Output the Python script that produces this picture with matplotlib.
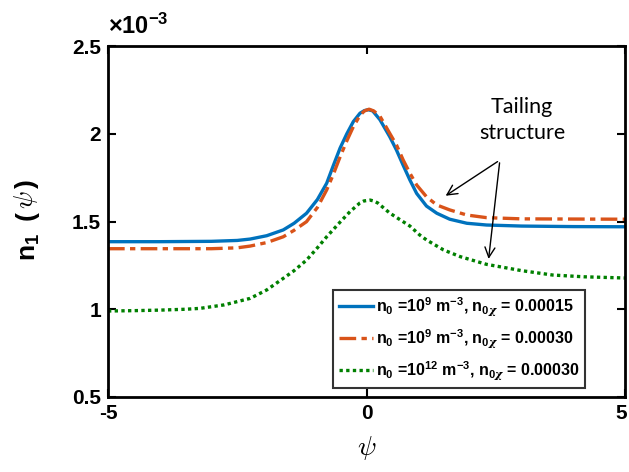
import matplotlib
matplotlib.use("Agg")
import matplotlib.pyplot as plt
import matplotlib.transforms as mtransforms

plt.rcParams['font.family'] = ['Liberation Sans', 'DejaVu Sans']
plt.rcParams['font.weight'] = 'bold'
plt.rcParams['mathtext.fontset'] = 'custom'
plt.rcParams['mathtext.rm'] = 'Liberation Sans:bold'
plt.rcParams['mathtext.bf'] = 'Liberation Sans:bold'
plt.rcParams['mathtext.it'] = 'DejaVu Serif:italic'
plt.rcParams['mathtext.default'] = 'rm'

# values of n1 in units of 1e-3
psi_blue = [-5, -4, -3, -2.5, -2.25, -1.93, -1.61, -1.4, -1.16, -0.95, -0.77, -0.64, -0.51, -0.38,
            -0.255, -0.126, -0.04, 0.035, 0.12, 0.26, 0.45, 0.58, 0.71, 0.84, 0.97, 1.16, 1.36,
            1.61, 1.94, 2.32, 3, 4, 5]
n1_blue = [1.385, 1.385, 1.387, 1.392, 1.40, 1.419, 1.452, 1.49, 1.547, 1.625, 1.718, 1.82, 1.919, 2.0,
           2.069, 2.117, 2.132, 2.137, 2.13, 2.08, 1.983, 1.907, 1.82, 1.736, 1.66, 1.588, 1.547,
           1.513, 1.49, 1.48, 1.474, 1.471, 1.47]

psi_orange = [-5, -4, -3, -2.5, -2.25, -1.93, -1.61, -1.4, -1.16, -0.95, -0.77, -0.64, -0.51, -0.38,
              -0.255, -0.126, -0.04, 0.05, 0.14, 0.26, 0.45, 0.58, 0.71, 0.84, 0.97, 1.16, 1.36,
              1.61, 1.94, 2.32, 3, 4, 5]
n1_orange = [1.345, 1.345, 1.345, 1.35, 1.36, 1.38, 1.413, 1.45, 1.499, 1.58, 1.68, 1.77, 1.869, 1.96,
             2.04, 2.105, 2.13, 2.14, 2.13, 2.10, 2.002, 1.936, 1.85, 1.775, 1.708, 1.641, 1.594,
             1.566, 1.537, 1.522, 1.515, 1.514, 1.513]

psi_green = [-5, -4.5, -4, -3.5, -3.22, -2.75, -2.25, -1.93, -1.61, -1.4, -1.16, -0.95, -0.77, -0.5,
             -0.32, -0.13, -0.05, 0.07, 0.15, 0.22, 0.45, 0.65, 0.84, 1.03, 1.16, 1.49, 1.81, 2.32,
             3, 3.6, 4.2, 5]
n1_green = [0.99, 0.992, 0.995, 1.0, 1.005, 1.025, 1.062, 1.11, 1.176, 1.22, 1.28, 1.35, 1.413, 1.50,
            1.556, 1.605, 1.617, 1.622, 1.616, 1.605, 1.548, 1.51, 1.474, 1.423, 1.395, 1.338, 1.30,
            1.256, 1.22, 1.195, 1.185, 1.178]

labels = [r'n$_{0}$ =10$^{9}$ m$^{-3}$, n$_{0\mathit{\chi}}$ = 0.00015',
          r'n$_{0}$ =10$^{9}$ m$^{-3}$, n$_{0\mathit{\chi}}$ = 0.00030',
          r'n$_{0}$ =10$^{12}$ m$^{-3}$, n$_{0\mathit{\chi}}$ = 0.00030']

xticks = [-5, 0, 5]
yticks = [0.5, 1, 1.5, 2, 2.5]
yticklabels = ['0.5', '1', '1.5', '2', '2.5']

W, H = 629, 472
fig = plt.figure(figsize=(W / 100, H / 100), dpi=100)
ax = fig.add_axes([108 / W, 75 / H, 517 / W, 351 / H])

ax.plot(psi_blue, n1_blue, color='#0072BD', lw=2.4, ls='-', label=labels[0])
ax.plot(psi_orange, n1_orange, color='#D95319', lw=2.4, ls=(0, (5, 1.6, 1.6, 1.6)), label=labels[1])
ax.plot(psi_green, n1_green, color='#008000', lw=2.4, ls=(0, (1, 1.0)), label=labels[2])

ax.set_xlim(-5, 5)
ax.set_ylim(0.5, 2.5)
ax.set_xticks(xticks)
ax.set_xticklabels([str(t) for t in xticks])
ax.set_yticks(yticks)
ax.set_yticklabels(yticklabels)
ax.tick_params(direction='in', length=6, width=1.5, labelsize=15, top=True, right=True, pad=5)
for lab in ax.get_xticklabels() + ax.get_yticklabels():
    lab.set_fontweight('bold')
# keep the right-most x tick label inside the canvas
last = ax.get_xticklabels()[-1]
last.set_transform(last.get_transform() + mtransforms.ScaledTranslation(-4 / 100, 0, fig.dpi_scale_trans))
for s in ax.spines.values():
    s.set_linewidth(2)

ax.set_xlabel(r'$\psi$', fontsize=20, math_fontfamily='cm', labelpad=8)

# y label built from pieces (sans bold n_1 and parentheses, Computer Modern psi)
def fx(px):
    return px / W

def fy(py):
    return 1 - py / H

fig.text(fx(30), fy(247), r'n$_{1}$', rotation=90, fontsize=19, fontweight='bold',
         ha='center', va='center')
fig.text(fx(27), fy(216), '(', rotation=90, fontsize=19, fontweight='bold',
         ha='center', va='center')
fig.text(fx(26), fy(200), r'$\psi$', rotation=90, fontsize=19, math_fontfamily='cm',
         ha='center', va='center')
fig.text(fx(27), fy(184), ')', rotation=90, fontsize=19, fontweight='bold',
         ha='center', va='center')

ax.text(0.0, 1.02, r'$\times$10$^{-3}$', transform=ax.transAxes, fontsize=17,
        fontweight='bold', ha='left', va='bottom')

leg = ax.legend(loc='lower right', bbox_to_anchor=(0.9226, 0.026), fontsize=11.5,
                frameon=True, fancybox=False, handlelength=2.1, handletextpad=0.2,
                borderpad=0.35, labelspacing=0.6, borderaxespad=0)
leg.get_frame().set_edgecolor('black')
leg.get_frame().set_linewidth(1.5)
for t in leg.get_texts():
    t.set_fontweight('bold')

ax.text(3.01, 2.078, 'Tailing\nstructure', fontsize=15.5, family='Lato', fontweight='normal',
        ha='center', va='center', linespacing=1.35)
ax.annotate('', xy=(1.486, 1.638), xytext=(2.58, 1.85),
            arrowprops=dict(arrowstyle='->', color='black', lw=1.0, mutation_scale=18))
ax.annotate('', xy=(2.356, 1.271), xytext=(2.58, 1.85),
            arrowprops=dict(arrowstyle='->', color='black', lw=1.0, mutation_scale=18))

fig.savefig('out.png', dpi=100)
